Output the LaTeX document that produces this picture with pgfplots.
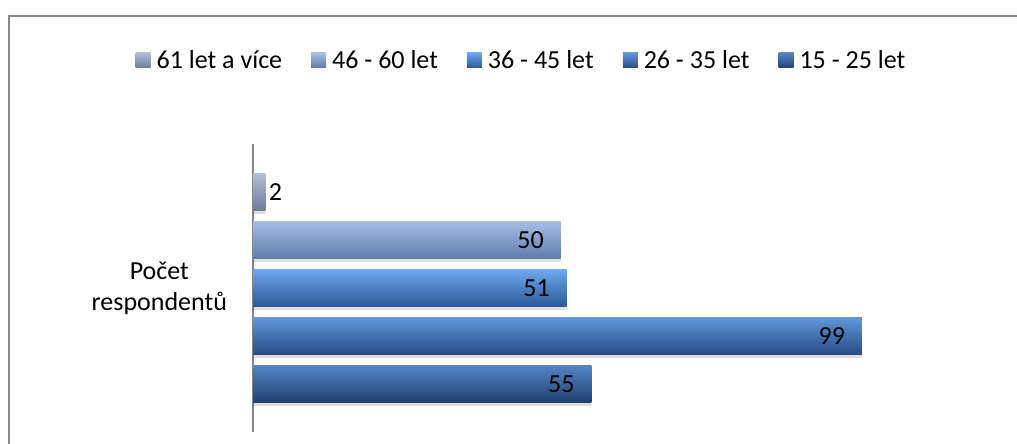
\documentclass[border=0pt]{standalone}
\usepackage{pgfplots}
\pgfplotsset{compat=1.18}
\usepackage{fontspec}
\setmainfont{Carlito}
\definecolor{frameGray}{HTML}{8A8A8A}
\definecolor{axisGray}{HTML}{868686}
% 61 let a vice
\definecolor{aTop}{HTML}{B4BED6}\definecolor{aMid}{HTML}{95A2C2}\definecolor{aBot}{HTML}{6E7B9A}
% 46-60
\definecolor{bTop}{HTML}{A6BFE6}\definecolor{bMid}{HTML}{819DCC}\definecolor{bBot}{HTML}{5F7AAA}
% 36-45
\definecolor{cTop}{HTML}{6EA8EE}\definecolor{cMid}{HTML}{3D79C7}\definecolor{cBot}{HTML}{2A5897}
% 26-35
\definecolor{dTop}{HTML}{6096DC}\definecolor{dMid}{HTML}{386AAE}\definecolor{dBot}{HTML}{274C83}
% 15-25
\definecolor{eTop}{HTML}{5485C6}\definecolor{eMid}{HTML}{2E5B97}\definecolor{eBot}{HTML}{1F3F6E}
\begin{document}
\begin{tikzpicture}[x=1pt,y=1pt]
\useasboundingbox (0,0) rectangle (1017,-444);
\fill[white] (0,0) rectangle (1017,-444);
\draw[line width=2pt, color=frameGray] (8.5,-446) -- (8.5,-16) -- (1019,-16);
\begin{axis}[
  at={(253pt,-432pt)}, anchor=south west,
  scale only axis, width=738pt, height=288pt,
  xmin=0, xmax=120, ymin=0, ymax=6,
  axis x line=none, axis y line=left,
  y axis line style={-, draw=axisGray, line width=1.5pt},
  xbar, bar width=0.78, bar shift=0pt,
  ytick={3}, yticklabels={{Počet\\respondentů}},
  major tick length=0pt,
  /pgf/number format/assume math mode=true,
  yticklabel style={align=center, font=\fontsize{26}{31}\selectfont, xshift=-22.5pt},
  point meta=x,
  every node near coord/.append style={font=\fontsize{26}{31}\selectfont, text=black},
  legend columns=-1,
  legend style={at={(0.3665,1.29)}, anchor=center, draw=none, fill=none,
    font=\fontsize{26}{31}\selectfont,
    /tikz/every even column/.append style={column sep=23pt},
    nodes={inner ysep=2.5pt, inner xsep=6pt}},
  legend image code/.code={\path[#1, draw=none] (0pt,-7.5pt) rectangle (15pt,7.5pt);},
]
% shadows
\addplot[forget plot, fill=black, draw=none, opacity=0.13, bar shift=-0.07] coordinates {(2,5) (50,4) (51,3) (99,2) (55,1)};
\addplot[draw=none, top color=aTop, middle color=aMid, bottom color=aBot, nodes near coords] coordinates {(2,5)};
\addlegendentry{61 let a více}
\addplot[draw=none, top color=bTop, middle color=bMid, bottom color=bBot, nodes near coords, every node near coord/.append style={xshift=-46.7pt}] coordinates {(50,4)};
\addlegendentry{46 - 60 let}
\addplot[draw=none, top color=cTop, middle color=cMid, bottom color=cBot, nodes near coords, every node near coord/.append style={xshift=-46.7pt}] coordinates {(51,3)};
\addlegendentry{36 - 45 let}
\addplot[draw=none, top color=dTop, middle color=dMid, bottom color=dBot, nodes near coords, every node near coord/.append style={xshift=-46.7pt}] coordinates {(99,2)};
\addlegendentry{26 - 35 let}
\addplot[draw=none, top color=eTop, middle color=eMid, bottom color=eBot, nodes near coords, every node near coord/.append style={xshift=-46.7pt}] coordinates {(55,1)};
\addlegendentry{15 - 25 let}
\end{axis}
\end{tikzpicture}
\end{document}
